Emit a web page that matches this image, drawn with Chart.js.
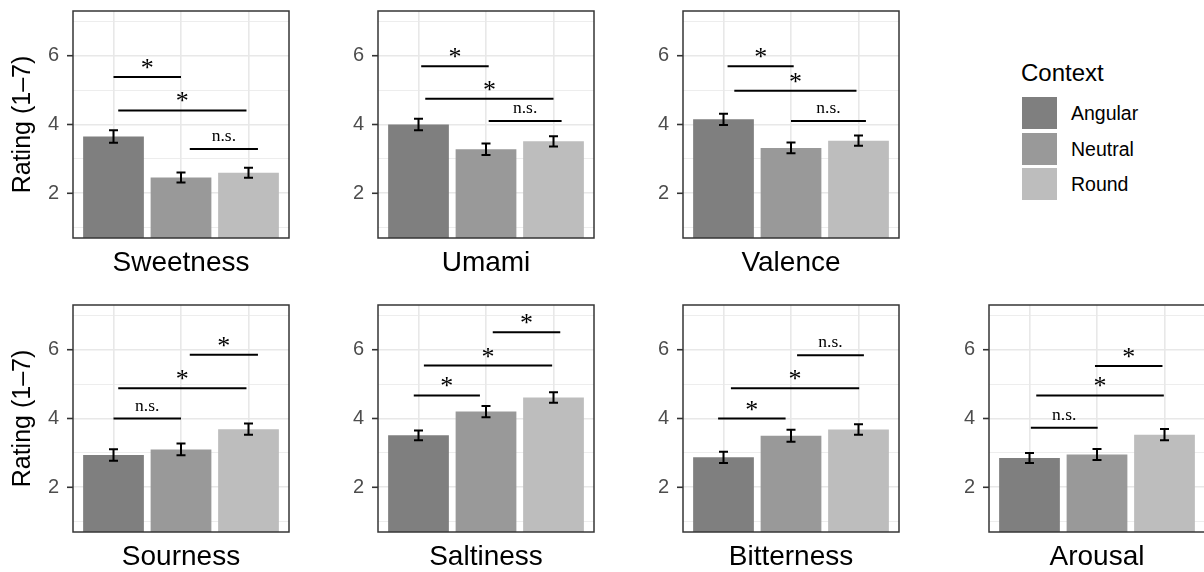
<!DOCTYPE html>
<html><head><meta charset="utf-8">
<script src="https://cdn.jsdelivr.net/npm/chart.js@4.4.1/dist/chart.umd.min.js"></script>
<style>
html,body{margin:0;padding:0;background:#fff;}
#wrap{position:relative;width:1204px;height:572px;overflow:hidden;background:#fff;font-family:"Liberation Sans",Arial,sans-serif;}
#wrap canvas{position:absolute;}
.lg-title{position:absolute;left:1021px;top:58px;font-size:24px;line-height:30px;color:#000;}
.lg-key{position:absolute;left:1022px;width:35px;height:32px;}
.lg-lab{position:absolute;left:1071px;font-size:19.5px;line-height:24px;color:#000;}
</style></head>
<body><div id="wrap"></div>
<script>
// ---- data ----
const contexts = ['Angular', 'Neutral', 'Round'];
const attributes = ['Sweetness', 'Umami', 'Valence', 'Sourness', 'Saltiness', 'Bitterness', 'Arousal'];
const angularMeans = [3.65, 4.00, 4.15, 2.94, 3.51, 2.87, 2.85];
const neutralMeans = [2.46, 3.28, 3.32, 3.10, 4.20, 3.50, 2.95];
const roundMeans   = [2.60, 3.51, 3.53, 3.69, 4.61, 3.68, 3.53];
const angularSE = [0.18, 0.17, 0.165, 0.165, 0.14, 0.165, 0.145];
const neutralSE = [0.145, 0.165, 0.155, 0.17, 0.165, 0.175, 0.16];
const roundSE   = [0.145, 0.15, 0.15, 0.165, 0.15, 0.155, 0.165];
const yTickValues = [1, 2, 3, 4, 5, 6, 7];
const yTickLabels = ['', '2', '', '4', '', '6', ''];
const yAxisTitle = 'Rating (1–7)';
const legendTitle = 'Context';
// significance brackets: [from context, to context, rating level, label]
const sigSweetness  = [[1.00, 2.00, 5.38, '*'], [1.07, 2.97, 4.41, '*'], [2.13, 3.14, 3.29, 'n.s.']];
const sigUmami      = [[1.04, 2.04, 5.69, '*'], [1.10, 3.00, 4.75, '*'], [2.04, 3.12, 4.10, 'n.s.']];
const sigValence    = [[1.06, 2.04, 5.69, '*'], [1.16, 2.97, 4.98, '*'], [2.00, 3.11, 4.10, 'n.s.']];
const sigSourness   = [[1.00, 2.00, 4.00, 'n.s.'], [1.07, 2.97, 4.88, '*'], [2.13, 3.14, 5.85, '*']];
const sigSaltiness  = [[0.93, 1.91, 4.67, '*'], [1.08, 2.98, 5.54, '*'], [2.10, 3.10, 6.51, '*']];
const sigBitterness = [[0.92, 1.92, 4.00, '*'], [1.11, 3.01, 4.88, '*'], [2.09, 3.08, 5.84, 'n.s.']];
const sigArousal    = [[1.02, 2.01, 3.73, 'n.s.'], [1.10, 2.99, 4.67, '*'], [1.97, 2.97, 5.53, '*']];

// ---- styles / layout ----
const barColors = ['#7f7f7f', '#999999', '#bdbdbd'];
const sigSets = [sigSweetness, sigUmami, sigValence, sigSourness, sigSaltiness, sigBitterness, sigArousal];
const panelCol = [0, 1, 2, 0, 1, 2, 3];
const panelRow = [0, 0, 0, 1, 1, 1, 1];
const colLeft = [73, 378, 683, 989];
const rowTop = [11, 305];
const FW = 216, FH = 227, PADTOP = 11, XAXH = 42;

const wrap = document.getElementById('wrap');

const panelPlugin = {
  id: 'panelExtras',
  afterDatasetsDraw(chart, args, opts) {
    const ctx = chart.ctx, xs = chart.scales.x, ys = chart.scales.y;
    const i = opts.index;
    const means = [angularMeans[i], neutralMeans[i], roundMeans[i]];
    const ses = [angularSE[i], neutralSE[i], roundSE[i]];
    ctx.save();
    ctx.strokeStyle = '#000';
    ctx.lineWidth = 2;
    means.forEach((m, j) => {
      const x = xs.getPixelForValue(j + 1);
      const y1 = ys.getPixelForValue(m + ses[j]);
      const y2 = ys.getPixelForValue(m - ses[j]);
      ctx.beginPath();
      ctx.moveTo(x, y1); ctx.lineTo(x, y2);
      ctx.moveTo(x - 4.5, y1); ctx.lineTo(x + 4.5, y1);
      ctx.moveTo(x - 4.5, y2); ctx.lineTo(x + 4.5, y2);
      ctx.stroke();
    });
    sigSets[i].forEach(([a, b, lvl, lab]) => {
      const xa = xs.getPixelForValue(a), xb = xs.getPixelForValue(b);
      const y = ys.getPixelForValue(lvl);
      ctx.beginPath(); ctx.moveTo(xa, y); ctx.lineTo(xb, y); ctx.stroke();
      ctx.fillStyle = '#000';
      ctx.textAlign = 'center';
      ctx.textBaseline = 'alphabetic';
      if (lab === '*') {
        ctx.font = '26px "Liberation Serif", "Times New Roman", serif';
        ctx.fillText(lab, (xa + xb) / 2, y - 1);
      } else {
        ctx.font = '17.5px "Liberation Serif", "Times New Roman", serif';
        ctx.fillText(lab, (xa + xb) / 2, y - 8);
      }
    });
    ctx.restore();
  },
  afterDraw(chart) {
    const ctx = chart.ctx, a = chart.chartArea, ys = chart.scales.y;
    ctx.save();
    // tick marks at labelled y ticks
    ctx.strokeStyle = '#333333';
    ctx.lineWidth = 1.6;
    ys.ticks.forEach((t, k) => {
      if (!yTickLabels[k]) return;
      const y = ys.getPixelForValue(t.value);
      ctx.beginPath(); ctx.moveTo(a.left - 6, y); ctx.lineTo(a.left, y); ctx.stroke();
    });
    ctx.strokeStyle = '#363636';
    ctx.lineWidth = 1.5;
    ctx.strokeRect(a.left, a.top, a.right - a.left, a.bottom - a.top);
    ctx.restore();
  }
};

attributes.forEach((attr, i) => {
  const col = panelCol[i], row = panelRow[i];
  const axisW = col === 0 ? 73 : 50;
  const cv = document.createElement('canvas');
  const W = axisW + FW + 2, H = PADTOP + FH + XAXH;
  cv.width = W; cv.height = H;
  cv.style.width = W + 'px'; cv.style.height = H + 'px';
  cv.style.left = (colLeft[col] - axisW) + 'px';
  cv.style.top = (rowTop[row] - PADTOP) + 'px';
  wrap.appendChild(cv);
  const means = [angularMeans[i], neutralMeans[i], roundMeans[i]];
  new Chart(cv, {
    type: 'bar',
    data: {
      datasets: [{
        data: contexts.map((c, j) => ({ x: j + 1, y: means[j] })),
        backgroundColor: barColors,
        borderWidth: 0,
        barPercentage: 0.9,
        categoryPercentage: 1,
        clip: 0
      }]
    },
    options: {
      responsive: false,
      devicePixelRatio: 1,
      animation: false,
      layout: { padding: { left: 0, top: PADTOP, right: 2, bottom: 0 } },
      plugins: { legend: { display: false }, tooltip: { enabled: false }, panelExtras: { index: i } },
      scales: {
        x: {
          type: 'linear', min: 0.4, max: 3.6, offset: false,
          afterBuildTicks(s) { s.ticks = contexts.map((c, j) => ({ value: j + 1 })); },
          afterFit(s) { s.height = XAXH; s.paddingLeft = 0; s.paddingRight = 0; },
          ticks: { display: false },
          grid: { offset: false, color: '#e8e8e8', lineWidth: 1.6, drawTicks: false },
          border: { display: false },
          title: { display: true, text: attr, color: '#000',
                   font: { family: '"Liberation Sans", Arial, sans-serif', size: 28, lineHeight: 1.2 },
                   padding: { top: 0, bottom: 0 } }
        },
        y: {
          min: 0.7, max: 7.3,
          afterBuildTicks(s) { s.ticks = yTickValues.map(v => ({ value: v })); },
          afterFit(s) { s.width = axisW; s.paddingTop = 0; s.paddingBottom = 0; },
          ticks: {
            autoSkip: false, padding: 8, color: '#4d4d4d',
            font: { family: '"Liberation Sans", Arial, sans-serif', size: 20 },
            callback: (v, idx) => yTickLabels[idx]
          },
          grid: {
            color: '#e8e8e8',
            lineWidth: c => (c.tick && c.tick.value % 2 === 0) ? 1.6 : 0.8,
            tickColor: 'rgba(0,0,0,0)',
            tickLength: 6
          },
          border: { display: false },
          title: { display: col === 0, text: yAxisTitle, color: '#000',
                   font: { family: '"Liberation Sans", Arial, sans-serif', size: 25, lineHeight: 1.2 },
                   padding: { top: 8, bottom: 0 } }
        }
      }
    },
    plugins: [panelPlugin]
  });
});

// legend
const lt = document.createElement('div');
lt.className = 'lg-title'; lt.textContent = legendTitle; wrap.appendChild(lt);
const keyTops = [97, 132.5, 168];
contexts.forEach((c, j) => {
  const k = document.createElement('div');
  k.className = 'lg-key'; k.style.top = keyTops[j] + 'px'; k.style.background = barColors[j];
  wrap.appendChild(k);
  const l = document.createElement('div');
  l.className = 'lg-lab'; l.style.top = (keyTops[j] + 4) + 'px'; l.textContent = c;
  wrap.appendChild(l);
});
</script>
</body></html>
